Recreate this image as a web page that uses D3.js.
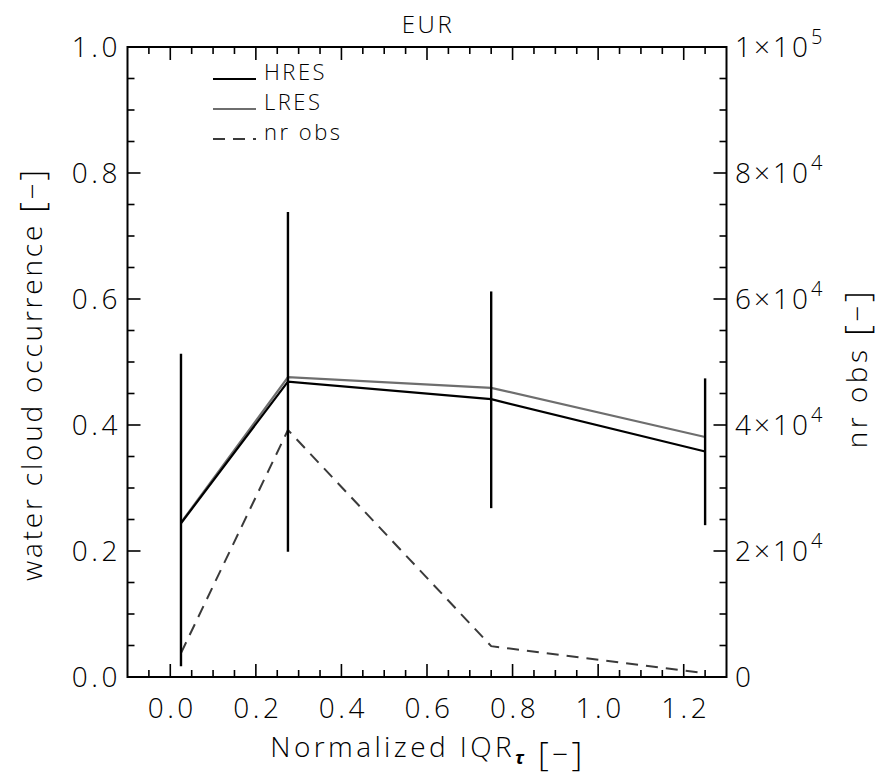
<!DOCTYPE html>
<html>
<head>
<meta charset="utf-8">
<script src="https://cdn.jsdelivr.net/npm/d3@7"></script>
<style>
  html, body { margin: 0; padding: 0; background: #fff; }
  svg { display: block; }
  text { font-family: "Open Sans", "DejaVu Sans", sans-serif; font-weight: 300; fill: #000; }
</style>
</head>
<body>
<svg id="chart" width="878" height="775"></svg>
<script>
// Bin centres of the normalized IQR of optical thickness
const binX = [0.025, 0.275, 0.75, 1.25];
// Water cloud occurrence per bin
const hres = [0.244, 0.469, 0.441, 0.358];
const lres = [0.245, 0.476, 0.459, 0.381];
// Spread around the HRES values (lower / upper ends of the bars)
const errLow = [0.017, 0.199, 0.268, 0.241];
const errHigh = [0.513, 0.738, 0.612, 0.474];
// Number of observations per bin (right axis)
const nrObs = [3800, 39200, 4900, 600];

const xTicks = [0.0, 0.2, 0.4, 0.6, 0.8, 1.0, 1.2];
const yTicks = [0.0, 0.2, 0.4, 0.6, 0.8, 1.0];
const y2Ticks = [0, 20000, 40000, 60000, 80000, 100000];
const y2Labels = [
  { m: "0", e: "" }, { m: "2×10", e: "4" }, { m: "4×10", e: "4" },
  { m: "6×10", e: "4" }, { m: "8×10", e: "4" }, { m: "1×10", e: "5" }
];
const legendItems = [
  { name: "HRES", color: "#000", dash: null },
  { name: "LRES", color: "#6e6e6e", dash: null },
  { name: "nr obs", color: "#3a3a3a", dash: "12,8" }
];

const L = 127.5, R = 726.5, T = 47, B = 677;
const svg = d3.select("#chart");

const x = d3.scaleLinear().domain([-0.1, 1.3]).range([L, R]);
const y = d3.scaleLinear().domain([0, 1]).range([B, T]);
const y2 = d3.scaleLinear().domain([0, 100000]).range([B, T]);

const majorLen = 13, minorLen = 7;

// tick marks drawn inward from each side of the frame
function ticks(vals, scale, orient, len) {
  const g = svg.append("g").attr("stroke", "#000").attr("stroke-width", 1.6);
  vals.forEach(v => {
    const p = scale(v);
    if (orient === "bottom") g.append("line").attr("x1", p).attr("x2", p).attr("y1", B).attr("y2", B - len);
    if (orient === "top") g.append("line").attr("x1", p).attr("x2", p).attr("y1", T).attr("y2", T + len);
    if (orient === "left") g.append("line").attr("x1", L).attr("x2", L + len).attr("y1", p).attr("y2", p);
    if (orient === "right") g.append("line").attr("x1", R).attr("x2", R - len).attr("y1", p).attr("y2", p);
  });
}
const xMinor = d3.range(-0.05, 1.3, 0.05).filter(v => Math.abs(Math.round(v * 5) - v * 5) > 1e-6);
const yMinor = d3.range(0.05, 1.0, 0.05).filter(v => Math.abs(Math.round(v * 5) - v * 5) > 1e-6);
const y2Minor = d3.range(5000, 100000, 5000).filter(v => v % 20000 !== 0);

ticks(xTicks, x, "bottom", majorLen); ticks(xMinor, x, "bottom", minorLen);
ticks(xTicks, x, "top", majorLen); ticks(xMinor, x, "top", minorLen);
ticks(yTicks, y, "left", majorLen); ticks(yMinor, y, "left", minorLen);
ticks(y2Ticks, y2, "right", majorLen); ticks(y2Minor, y2, "right", minorLen);

// frame
svg.append("rect").attr("x", L).attr("y", T).attr("width", R - L).attr("height", B - T)
  .attr("fill", "none").attr("stroke", "#000").attr("stroke-width", 2);

// tick labels
svg.append("g").selectAll("text").data(xTicks).join("text")
  .attr("x", d => x(d) + 2).attr("y", 718).attr("text-anchor", "middle")
  .attr("font-size", 28).attr("letter-spacing", 3.5).text(d => d.toFixed(1));
svg.append("g").selectAll("text").data(yTicks).join("text")
  .attr("x", 121).attr("y", d => y(d) + 10).attr("text-anchor", "end")
  .attr("font-size", 28).attr("letter-spacing", 3.5).text(d => d.toFixed(1));
const y2g = svg.append("g").selectAll("text").data(y2Ticks).join("text")
  .attr("x", 735).attr("y", d => y2(d) + 10).attr("font-size", 28).attr("letter-spacing", 3);
y2g.each(function(d, i) {
  const t = d3.select(this);
  t.append("tspan").text(y2Labels[i].m);
  if (y2Labels[i].e) t.append("tspan").attr("dy", -13).attr("font-size", 20).text(y2Labels[i].e);
});

// axis unit "[−]" with tall brackets
function unit(t, size) {
  t.append("tspan").text(" ");
  t.append("tspan").attr("font-size", size * 1.2).attr("dy", 2).text("[");
  t.append("tspan").attr("font-size", size).attr("dy", -2).text("−");
  t.append("tspan").attr("font-size", size * 1.2).attr("dy", 2).text("]");
}

// titles
svg.append("text").attr("x", 428).attr("y", 33).attr("text-anchor", "middle")
  .attr("font-size", 24).attr("letter-spacing", 2.5).text("EUR");
const xt = svg.append("text").attr("x", 428).attr("y", 757).attr("text-anchor", "middle")
  .attr("font-size", 28).attr("letter-spacing", 3.4);
xt.append("tspan").text("Normalized IQR");
xt.append("tspan").attr("dy", 7).attr("font-size", 18).attr("font-style", "italic").attr("font-weight", 700).text("τ");
xt.append("tspan").attr("dy", -7).text("");
unit(xt, 28);
const yt = svg.append("text").attr("transform", "translate(42,374) rotate(-90)").attr("text-anchor", "middle")
  .attr("font-size", 28).attr("letter-spacing", 2.8);
yt.append("tspan").text("water cloud occurrence");
unit(yt, 28);
const y2t = svg.append("text").attr("transform", "translate(867,368) rotate(-90)").attr("text-anchor", "middle")
  .attr("font-size", 28).attr("letter-spacing", 3.5);
y2t.append("tspan").text("nr obs");
unit(y2t, 28);

// series
const line = d3.line().x(d => x(d[0])).y(d => y(d[1]));
const line2 = d3.line().x(d => x(d[0])).y(d => y2(d[1]));
const plot = svg.append("g");
plot.append("path").datum(binX.map((v, i) => [v, nrObs[i]])).attr("d", line2)
  .attr("fill", "none").attr("stroke", "#3a3a3a").attr("stroke-width", 2).attr("stroke-dasharray", "12,8");
plot.append("path").datum(binX.map((v, i) => [v, lres[i]])).attr("d", line)
  .attr("fill", "none").attr("stroke", "#6e6e6e").attr("stroke-width", 2.2);
plot.append("path").datum(binX.map((v, i) => [v, hres[i]])).attr("d", line)
  .attr("fill", "none").attr("stroke", "#000").attr("stroke-width", 2.2);
plot.append("g").selectAll("line").data(binX).join("line")
  .attr("x1", d => x(d)).attr("x2", d => x(d))
  .attr("y1", (d, i) => y(errLow[i])).attr("y2", (d, i) => y(errHigh[i]))
  .attr("stroke", "#000").attr("stroke-width", 2.4);

// legend
const lg = svg.append("g");
legendItems.forEach((it, i) => {
  const yy = 79 + i * 30;
  lg.append("line").attr("x1", 213).attr("x2", 256).attr("y1", yy).attr("y2", yy)
    .attr("stroke", it.color).attr("stroke-width", 2.2).attr("stroke-dasharray", it.dash);
  lg.append("text").attr("x", 264).attr("y", yy + 1).attr("font-size", 22).attr("letter-spacing", 2.5).text(it.name);
});
</script>
</body>
</html>
